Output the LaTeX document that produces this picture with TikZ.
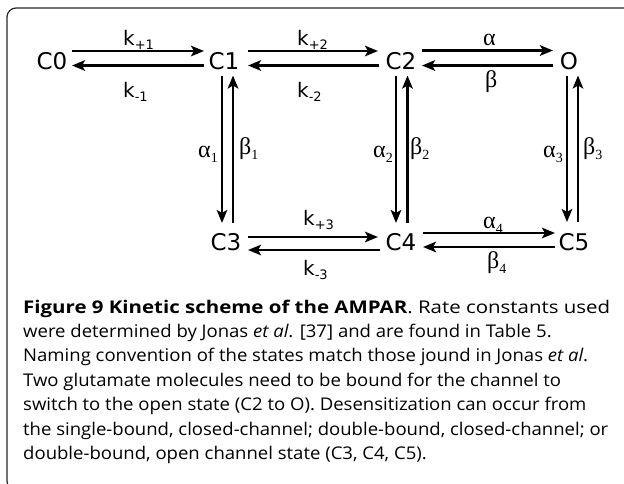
\documentclass[tikz,border=0pt]{standalone}
\usepackage{fontspec}
\usepackage{graphicx}
\setmainfont{Open Sans}
\newfontfamily\djv{DejaVu Sans}
\newfontfamily\tms{Liberation Serif}
\usetikzlibrary{arrows.meta,calc}
\newcommand{\ksub}[2]{k\raisebox{-4.5pt}{\fontsize{13}{13}\selectfont #2}}
\newcommand{\gsub}[2]{#1\raisebox{-5pt}{\fontsize{14}{14}\selectfont #2}}
\newcommand{\capsize}{\fontsize{17.5}{17.5}\selectfont}
\newlength\capnat
\newlength\capnatA
\newcommand{\capfirst}{\textbf{Figure 9 Kinetic scheme of the AMPAR}. Rate constants used}
\newcommand{\capsixth}{the single-bound, closed-channel; double-bound, closed-channel; or}
\newcommand{\cl}[1]{\scalebox{\capsx}[1]{#1}}
\newcommand{\clA}[1]{\scalebox{\capsxA}[1]{#1}}
\begin{document}
\settowidth\capnat{\capsize\capsixth}%
\settowidth\capnatA{\capsize\capfirst}%
\pgfmathsetmacro\capsx{585/\capnat}%
\pgfmathsetmacro\capsxA{587/\capnatA}%
\begin{tikzpicture}[x=1pt,y=-1pt,
  state/.style={inner sep=0pt,font=\djv\fontsize{23}{23}\selectfont},
  klab/.style={inner sep=0pt,anchor=base west,font=\djv\fontsize{20}{20}\selectfont},
  glab/.style={inner sep=0pt,anchor=base west,font=\tms\fontsize{24}{24}\selectfont},
  arr/.style={line width=2.8pt,-{Stealth[length=13pt,width=10.5pt,inset=3pt]}},
  capline/.style={inner sep=0pt,anchor=base west,font=\capsize}]
\useasboundingbox (0,0) rectangle (624,483);
\begin{scope}
\clip (0,0) rectangle (624,483);
\draw[line width=1.2pt,color=black!85,rounded corners=9pt] (7,8) rectangle (660,490);
\end{scope}
% states
\node[state] (C0) at (52,61.5) {C0};
\node[state] (C1) at (224,61.5) {C1};
\node[state] (C2) at (401,61.5) {C2};
\node[state] (O) at (569,61.5) {O};
\node[state] (C3) at (226,242) {C3};
\node[state] (C4) at (401,242) {C4};
\node[state] (C5) at (574,242) {C5};
% top row
\draw[arr] ($(C0)+(20,-10.5)$) -- ($(C1)+(-20,-10.5)$);
\draw[arr] ($(C1)+(-20,4)$) -- ($(C0)+(20,4)$);
\draw[arr] ($(C1)+(24,-10.5)$) -- ($(C2)+(-23,-10.5)$);
\draw[arr] ($(C2)+(-22,4)$) -- ($(C1)+(24,4)$);
\draw[arr] ($(C2)+(21,-11)$) -- ($(O)+(-16,-11)$);
\draw[arr] ($(O)+(-16,4)$) -- ($(C2)+(21,4)$);
% verticals
\draw[arr] ($(C1)+(-2,14)$) -- ($(C3)+(-4,-19)$);
\draw[arr] ($(C3)+(7,-19)$) -- ($(C1)+(9,14)$);
\draw[arr] ($(C2)+(-5,14)$) -- ($(C4)+(-5,-19)$);
\draw[arr] ($(C4)+(6.5,-19)$) -- ($(C2)+(6.5,14)$);
\draw[arr] ($(O)+(-2,14)$) -- ($(C5)+(-7,-20)$);
\draw[arr] ($(C5)+(4,-20)$) -- ($(O)+(9,14)$);
% bottom row
\draw[arr] ($(C3)+(22,-5)$) -- ($(C4)+(-23,-5)$);
\draw[arr] ($(C4)+(-21,8)$) -- ($(C3)+(22,8)$);
\draw[arr] ($(C4)+(22,-9)$) -- ($(C5)+(-19,-9)$);
\draw[arr] ($(C5)+(-19,5)$) -- ($(C4)+(22,5)$);
% rate labels
\node[klab] (kp1) at (123,45) {\ksub{k}{+1}};
\node[klab] (km1) at (123,97) {\ksub{k}{-1}};
\node[klab] (kp2) at (297,45) {\ksub{k}{+2}};
\node[klab] (km2) at (297,97) {\ksub{k}{-2}};
\node[klab] (kp3) at (303,225) {\ksub{k}{+3}};
\node[klab] (km3) at (303,275) {\ksub{k}{-3}};
\node[glab] (a0) at (483,45) {α};
\node[glab] (b0) at (485,87) {β};
\node[glab] (a1) at (198,157) {\gsub{α}{1}};
\node[glab] (b1) at (239,154) {\gsub{β}{1}};
\node[glab] (a2) at (373,157) {\gsub{α}{2}};
\node[glab] (b2) at (410,154) {\gsub{β}{2}};
\node[glab] (a3) at (543,157) {\gsub{α}{3}};
\node[glab] (b3) at (583,154) {\gsub{β}{3}};
\node[glab] (a4) at (483,228) {\gsub{α}{4}};
\node[glab] (b4) at (487,268) {\gsub{β}{4}};
% caption
\node[capline] (L1) at (23,313) {\clA{\capfirst}};
\node[capline] (L2) at (23,337) {\cl{were determined by Jonas \textit{et al}. [37] and are found in Table 5.}};
\node[capline] (L3) at (23,361.5) {\cl{Naming convention of the states match those jound in Jonas \textit{et al}.}};
\node[capline] (L4) at (23,386) {\cl{Two glutamate molecules need to be bound for the channel to}};
\node[capline] (L5) at (23,410.5) {\cl{switch to the open state (C2 to O). Desensitization can occur from}};
\node[capline] (L6) at (23,435) {\cl{\capsixth}};
\node[capline] (L7) at (23,459.5) {\cl{double-bound, open channel state (C3, C4, C5).}};
\end{tikzpicture}
\end{document}
